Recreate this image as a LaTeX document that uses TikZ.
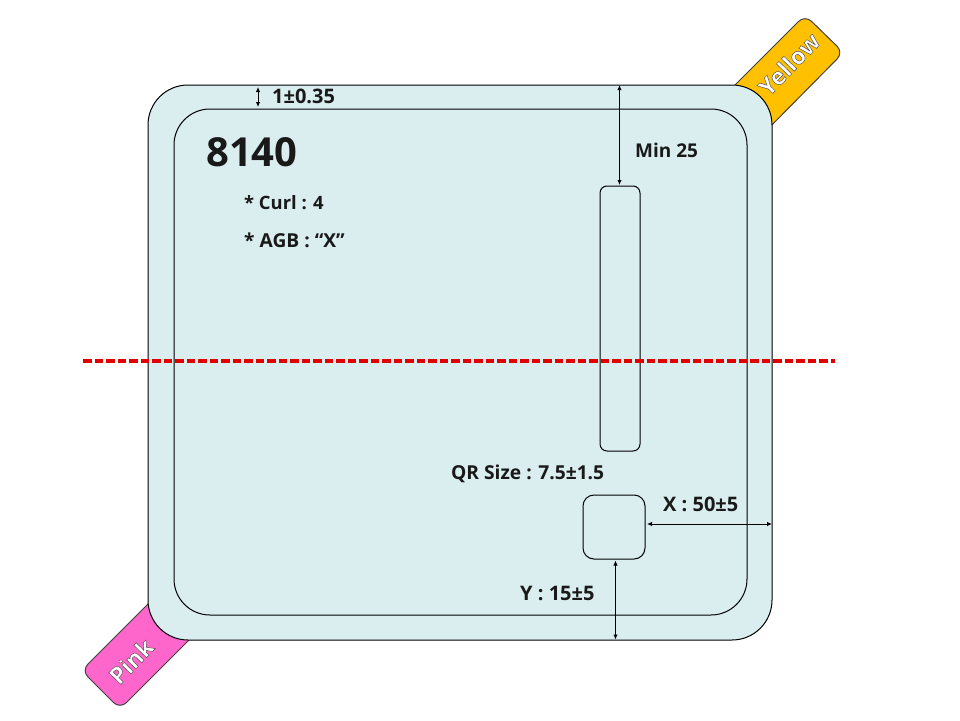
\documentclass[tikz,border=0pt]{standalone}
\usepackage{fontspec}
\setmainfont{Open Sans}
\usetikzlibrary{arrows.meta}
\definecolor{bodyfill}{HTML}{DAEDEF}
\definecolor{tabyellow}{HTML}{FFC000}
\definecolor{tabpink}{HTML}{FF66CC}
\definecolor{cutred}{HTML}{E00000}
\newcommand{\outlined}[1]{\special{pdf:code 1 g 0.3 G 2 Tr 0.45 w}#1}
\tikzset{
  plate/.style={draw=black,line width=1pt,fill=bodyfill,inner sep=0pt},
  tabshape/.style={draw=black!75,line width=1pt,rounded corners=9pt},
  dim/.style={line width=1pt,{Latex[length=5pt,width=4.5pt]}-{Latex[length=5pt,width=4.5pt]}},
  lbl/.style={font=\bfseries\fontsize{19.2}{22}\selectfont,text=black!90,inner sep=0pt},
  tablbl/.style={font=\bfseries\fontsize{23.5}{26}\selectfont,inner sep=0pt,rotate=46},
}
\begin{document}
\begin{tikzpicture}[x=1pt,y=-1pt]
\useasboundingbox (0,0) rectangle (960,720);
\fill[white] (0,0) rectangle (960,720);
\draw[tabshape,fill=tabyellow] (720,100) -- (805,15) -- (843.5,52.5) -- (755,142) -- cycle;
\draw[tabshape,fill=tabpink] (165,587) -- (81.5,670.5) -- (120,709) -- (205,624) -- cycle;
\node[plate,rounded corners=40pt,minimum width=624pt,minimum height=555pt] (body) at (460,362.5) {};
\node[plate,rounded corners=36pt,minimum width=573pt,minimum height=506pt] (inner) at (460.5,362) {};
\node[plate,rounded corners=7pt,minimum width=40pt,minimum height=265pt] (strip) at (620,318.5) {};
\node[plate,rounded corners=11pt,minimum width=62pt,minimum height=64pt] (qr) at (614,527) {};
\coordinate (gaptop) at (258,87);
\coordinate (gapbot) at (258,107);
\coordinate (cutl) at (83,361);
\coordinate (cutr) at (835,361);
\draw[dim] (gaptop) -- (gapbot);
\draw[dim] ([xshift=-0.5pt,yshift=0.5pt]strip.north) -- ([xshift=-0.5pt,yshift=-0.5pt]strip.north |- body.north);
\draw[dim] ([shift={(1.5pt,3pt)}]qr.east) -- ([shift={(-0.5pt,3pt)}]qr.east -| body.east);
\draw[dim] ([shift={(1.5pt,-1pt)}]qr.south) -- ([shift={(1.5pt,1pt)}]qr.south |- body.south);
\draw[cutred,line width=3.2pt,dash pattern=on 8.5pt off 3pt] (cutl) -- (cutr);
\node[lbl,anchor=west,font=\bfseries\fontsize{20}{22}\selectfont] (t1) at (272,96) {1±0.35};
\node[lbl,anchor=west,font=\bfseries\fontsize{40}{44}\selectfont] (t2) at (206,152) {8140};
\node[lbl,anchor=west,font=\bfseries\fontsize{18.4}{22}\selectfont] (t3) at (244,203) {* Curl : 4};
\node[lbl,anchor=west] (t4) at (244,240) {* AGB : “X”};
\node[lbl,anchor=west,font=\bfseries\fontsize{19}{22}\selectfont] (t5) at (635,150) {Min 25};
\node[lbl,anchor=west] (t6) at (451,474) {QR Size : 7.5±1.5};
\node[lbl,anchor=west,font=\bfseries\fontsize{20}{22}\selectfont] (t7) at (663,504) {X : 50±5};
\node[lbl,anchor=west,font=\bfseries\fontsize{20}{22}\selectfont] (t8) at (520,593) {Y : 15±5};
\node[tablbl] (yl) at (789,64) {\outlined{Yellow}};
\node[tablbl] (pl) at (131,661) {\outlined{Pink}};
\end{tikzpicture}
\end{document}
